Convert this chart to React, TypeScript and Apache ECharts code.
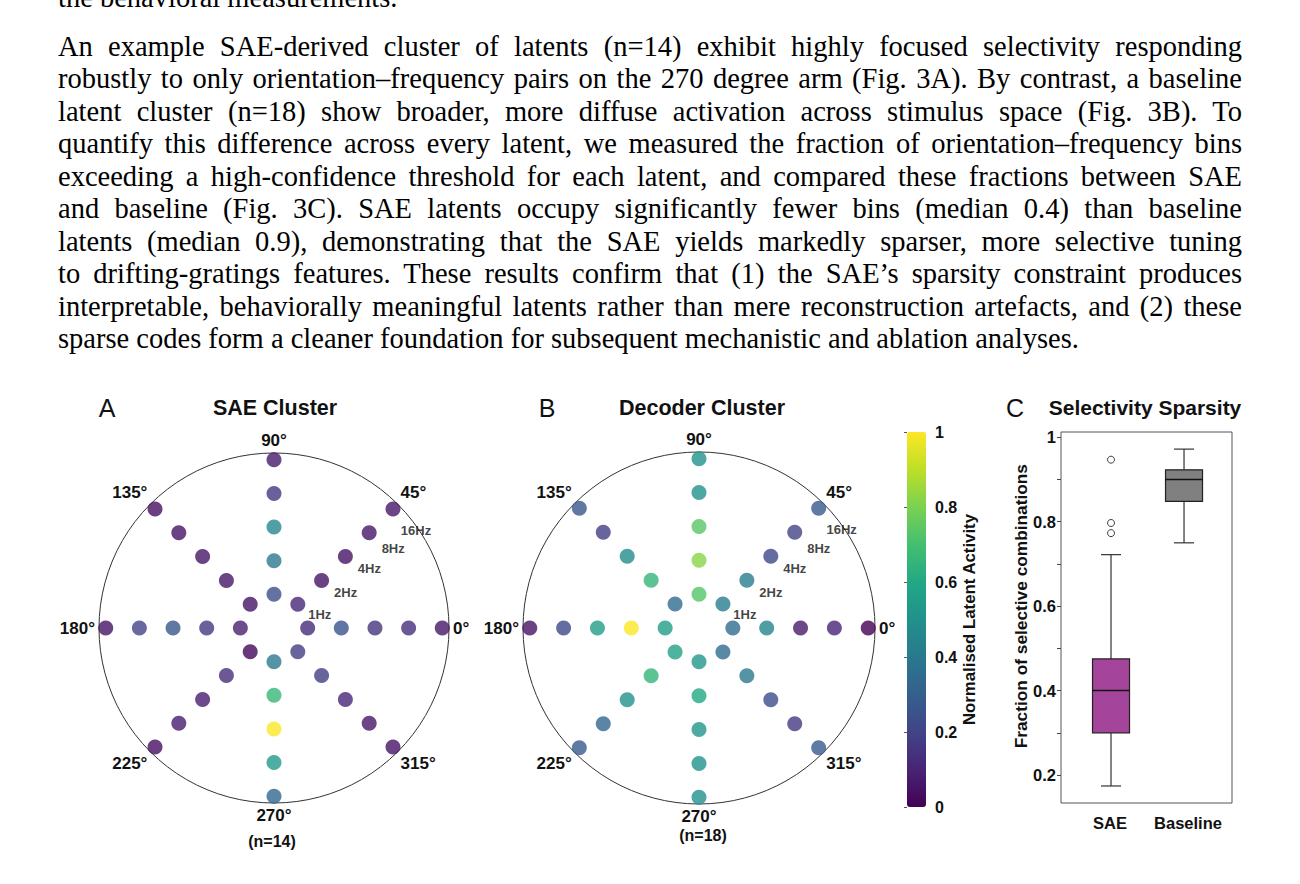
import React, { useEffect, useRef } from 'react';
import * as echarts from 'echarts';

// ---------------- text above the figure ----------------
const leadLine = 'the behavioral measurements.';
const paragraphLines = [
  'An example SAE-derived cluster of latents (n=14) exhibit highly focused selectivity responding',
  'robustly to only orientation–frequency pairs on the 270 degree arm (Fig. 3A). By contrast, a baseline',
  'latent cluster (n=18) show broader, more diffuse activation across stimulus space (Fig. 3B). To',
  'quantify this difference across every latent, we measured the fraction of orientation–frequency bins',
  'exceeding a high-confidence threshold for each latent, and compared these fractions between SAE',
  'and baseline (Fig. 3C). SAE latents occupy significantly fewer bins (median 0.4) than baseline',
  'latents (median 0.9), demonstrating that the SAE yields markedly sparser, more selective tuning',
  'to drifting-gratings features. These results confirm that (1) the SAE’s sparsity constraint produces',
  'interpretable, behaviorally meaningful latents rather than mere reconstruction artefacts, and (2) these',
  'sparse codes form a cleaner foundation for subsequent mechanistic and ablation analyses.',
];

// ---------------- polar panels ----------------
const angles = [0, 45, 90, 135, 180, 225, 270, 315];
const frequencyLabels = ['1Hz', '2Hz', '4Hz', '8Hz', '16Hz'];
const frequencyRadius = [1, 2, 3, 4, 5];

// rows: orientation (angles), columns: 1Hz..16Hz
const saeActivity = [
  [0.12, 0.26, 0.15, 0.13, 0.06], // 0
  [0.11, 0.05, 0.05, 0.06, 0.06], // 45
  [0.24, 0.4, 0.46, 0.17, 0.07], // 90
  [0.05, 0.06, 0.06, 0.05, 0.04], // 135
  [0.09, 0.17, 0.27, 0.2, 0.05], // 180
  [0.02, 0.13, 0.08, 0.08, 0.04], // 225
  [0.4, 0.66, 1.0, 0.54, 0.33], // 270
  [0.18, 0.18, 0.11, 0.06, 0.05], // 315
];

const decoderActivity = [
  [0.35, 0.45, 0.07, 0.1, 0.0], // 0
  [0.42, 0.42, 0.22, 0.2, 0.28], // 45
  [0.73, 0.82, 0.74, 0.5, 0.5], // 90
  [0.35, 0.65, 0.48, 0.18, 0.27], // 135
  [0.55, 1.0, 0.55, 0.22, 0.05], // 180
  [0.57, 0.65, 0.5, 0.33, 0.28], // 225
  [0.52, 0.6, 0.52, 0.5, 0.5], // 270
  [0.35, 0.4, 0.23, 0.17, 0.28], // 315
];

const colorbarTicks = [0, 0.2, 0.4, 0.6, 0.8, 1];

// ---------------- box plot panel ----------------
const boxCategories = ['SAE', 'Baseline'];
const boxLow = [0.174, 0.75];
const boxQ1 = [0.3, 0.848];
const boxMedian = [0.4, 0.9];
const boxQ3 = [0.475, 0.923];
const boxHigh = [0.722, 0.972];
const saeOutliers = [0.947, 0.797, 0.773];

// ---------------- styles ----------------
const viridis = ['#440154', '#482475', '#414487', '#355f8d', '#2a788e', '#21918c', '#22a884', '#44bf70', '#7ad151', '#bddf26', '#fde725'];
const boxFill = ['#A5449B', '#808080'];
const labelOffsets = [[22, 10], [24, 12], [24, 12], [24, 16], [23, 21]];
const FONT = '"Liberation Sans", Arial, Helvetica, sans-serif';
const INK = '#111';

function polarData(activity: number[][]) {
  const out: any[] = [];
  angles.forEach((a, ai) => {
    frequencyRadius.forEach((r, fi) => {
      const item: any = { value: [r, a, activity[ai][fi]] };
      if (a === 45) {
        item.label = {
          show: true,
          formatter: frequencyLabels[fi],
          offset: labelOffsets[fi],
          color: INK,
          textBorderWidth: 0,
          textBorderColor: 'transparent',
        };
      }
      out.push(item);
    });
  });
  return out;
}

function txt(text: string, x: number, y: number, fontSize: number, fontWeight: any = 'normal') {
  return {
    type: 'text',
    x,
    y,
    silent: true,
    style: {
      text,
      fontSize,
      fontWeight,
      fontFamily: FONT,
      fill: INK,
      textAlign: 'center',
      textVerticalAlign: 'middle',
      align: 'center',
      verticalAlign: 'middle',
    },
  };
}

function angleAxisFor(index: number) {
  return {
    polarIndex: index,
    type: 'value',
    min: 0,
    max: 360,
    interval: 45,
    startAngle: 0,
    clockwise: false,
    axisLine: { show: true, lineStyle: { color: '#333', width: 1 } },
    axisTick: { show: false },
    splitLine: { show: false },
    splitArea: { show: false },
    axisLabel: {
      show: true,
      margin: 4,
      fontSize: 17,
      fontWeight: 'bold',
      color: INK,
      fontFamily: FONT,
      formatter: (v: number) => (v >= 360 ? '' : v + '°'),
    },
  };
}

function buildOption(): any {
  const boxData = boxCategories.map((c, i) => [i + 1, boxLow[i], boxQ1[i], boxMedian[i], boxQ3[i], boxHigh[i]]);
  const freqLabelStyle = {
    show: false,
    position: 'inside',
    color: INK,
    fontSize: 13,
    fontWeight: 'bold',
    fontFamily: FONT,
    textBorderWidth: 0,
    textBorderColor: 'transparent',
  };
  return {
    animation: false,
    backgroundColor: '#ffffff',
    textStyle: { fontFamily: FONT, color: INK },
    polar: [
      { center: [274, 628], radius: 175 },
      { center: [699, 628], radius: 176 },
    ],
    angleAxis: [angleAxisFor(0), angleAxisFor(1)],
    radiusAxis: [
      { polarIndex: 0, type: 'value', min: 0, max: 5.2, show: false },
      { polarIndex: 1, type: 'value', min: 0, max: 5.2, show: false },
    ],
    visualMap: {
      type: 'continuous',
      min: 0,
      max: 1,
      dimension: 2,
      seriesIndex: [0, 1],
      inRange: { color: viridis },
      left: 907,
      top: 432,
      itemWidth: 19,
      itemHeight: 375,
      calculable: false,
      hoverLink: false,
      padding: 0,
      orient: 'vertical',
      text: null,
    },
    grid: [
      { left: 907, top: 432, width: 19, height: 375, show: false },
      { left: 1061, top: 432, width: 171, height: 371, show: true, borderColor: '#555', borderWidth: 1, backgroundColor: 'rgba(0,0,0,0)' },
      { left: 1061, top: 437.3, width: 171, height: 337.7, show: false },
      { left: 1071, top: 432, width: 156, height: 371, show: false },
    ],
    xAxis: [
      { gridIndex: 0, type: 'value', show: false, min: 0, max: 1 },
      { gridIndex: 1, type: 'value', show: false, min: 0, max: 1 },
      { gridIndex: 2, type: 'value', show: false, min: 0.315, max: 2.657 },
      {
        gridIndex: 3,
        type: 'category',
        data: boxCategories,
        axisLine: { show: false },
        axisTick: { show: false },
        splitLine: { show: false },
        axisLabel: { interval: 0, fontSize: 16.5, fontWeight: 'bold', color: INK, margin: 11, fontFamily: FONT },
      },
    ],
    yAxis: [
      {
        gridIndex: 0,
        type: 'value',
        position: 'right',
        min: 0,
        max: 1,
        interval: 0.2,
        axisLine: { show: false },
        axisTick: { show: true, length: 3, inside: true, lineStyle: { color: '#555' } },
        splitLine: { show: false },
        axisLabel: {
          margin: 9,
          fontSize: 16,
          fontWeight: 'bold',
          color: INK,
          fontFamily: FONT,
          formatter: (v: number) => {
            const hit = colorbarTicks.find((t) => Math.abs(t - v) < 1e-6);
            if (hit === undefined) return '';
            return hit === 0 || hit === 1 ? String(hit) : hit.toFixed(1);
          },
        },
        name: 'Normalised Latent Activity',
        nameLocation: 'middle',
        nameRotate: 90,
        nameGap: 35,
        nameTextStyle: { fontSize: 16.8, fontWeight: 'bold', color: INK, fontFamily: FONT },
      },
      { gridIndex: 1, type: 'value', show: false, min: 0, max: 1 },
      {
        gridIndex: 2,
        type: 'value',
        min: 0.2,
        max: 1,
        interval: 0.1,
        axisLine: { show: false },
        axisTick: { show: true, length: 4, lineStyle: { color: '#444' } },
        splitLine: { show: false },
        axisLabel: {
          margin: 5,
          fontSize: 16.5,
          fontWeight: 'bold',
          color: INK,
          fontFamily: FONT,
          formatter: (v: number) => {
            if (Math.abs(v * 5 - Math.round(v * 5)) > 1e-6) return '';
            return Math.abs(v - 1) < 1e-6 ? '1' : v.toFixed(1);
          },
        },
        name: 'Fraction of selective combinations',
        nameLocation: 'middle',
        nameRotate: 90,
        nameGap: 30,
        nameTextStyle: { fontSize: 17.3, fontWeight: 'bold', color: INK, fontFamily: FONT },
      },
      { gridIndex: 3, type: 'value', show: false, min: 0, max: 1 },
    ],
    series: [
      {
        type: 'scatter',
        coordinateSystem: 'polar',
        polarIndex: 0,
        symbol: 'circle',
        symbolSize: 15,
        data: polarData(saeActivity),
        label: freqLabelStyle,
        emphasis: { disabled: true },
        z: 3,
      },
      {
        type: 'scatter',
        coordinateSystem: 'polar',
        polarIndex: 1,
        symbol: 'circle',
        symbolSize: 15,
        data: polarData(decoderActivity),
        label: freqLabelStyle,
        emphasis: { disabled: true },
        z: 3,
      },
      {
        type: 'custom',
        xAxisIndex: 2,
        yAxisIndex: 2,
        clip: false,
        data: boxData,
        encode: { x: 0, y: [1, 2, 3, 4, 5] },
        renderItem: (params: any, api: any) => {
          const x = api.value(0);
          const low = api.coord([x, api.value(1)]);
          const q1 = api.coord([x, api.value(2)]);
          const med = api.coord([x, api.value(3)]);
          const q3 = api.coord([x, api.value(4)]);
          const high = api.coord([x, api.value(5)]);
          const half = 18.5;
          const cap = 10;
          const whisker = { stroke: '#333', lineWidth: 1.2 };
          return {
            type: 'group',
            children: [
              { type: 'line', shape: { x1: low[0], y1: low[1], x2: q1[0], y2: q1[1] }, style: whisker },
              { type: 'line', shape: { x1: q3[0], y1: q3[1], x2: high[0], y2: high[1] }, style: whisker },
              { type: 'line', shape: { x1: low[0] - cap, y1: low[1], x2: low[0] + cap, y2: low[1] }, style: whisker },
              { type: 'line', shape: { x1: high[0] - cap, y1: high[1], x2: high[0] + cap, y2: high[1] }, style: whisker },
              {
                type: 'rect',
                shape: { x: q3[0] - half, y: q3[1], width: half * 2, height: q1[1] - q3[1] },
                style: { fill: boxFill[params.dataIndex], stroke: '#222', lineWidth: 1.2 },
              },
              { type: 'line', shape: { x1: med[0] - half, y1: med[1], x2: med[0] + half, y2: med[1] }, style: { stroke: '#111', lineWidth: 1.5 } },
            ],
          };
        },
      },
      {
        type: 'scatter',
        xAxisIndex: 2,
        yAxisIndex: 2,
        symbol: 'circle',
        symbolSize: 7,
        itemStyle: { color: '#ffffff', borderColor: '#111', borderWidth: 1 },
        emphasis: { disabled: true },
        data: saeOutliers.map((v) => [1, v]),
        z: 4,
      },
    ],
    graphic: [
      txt('A', 107, 408, 25),
      txt('SAE Cluster', 275, 408, 21.5, 'bold'),
      txt('B', 547, 408, 25),
      txt('Decoder Cluster', 702, 408, 21.5, 'bold'),
      txt('C', 1015, 408, 25),
      txt('Selectivity Sparsity', 1145, 407, 21, 'bold'),
      txt('(n=14)', 272, 841, 16, 'bold'),
      txt('(n=18)', 703, 835, 16, 'bold'),
    ],
  };
}

export default function App() {
  const ref = useRef<HTMLDivElement>(null);
  useEffect(() => {
    if (!ref.current) return;
    const chart = echarts.init(ref.current, null, { renderer: 'svg' });
    chart.setOption(buildOption());
    return () => chart.dispose();
  }, []);

  const lineStyle: React.CSSProperties = {
    whiteSpace: 'nowrap',
    height: 32.5,
    textAlign: 'justify',
    textAlignLast: 'justify' as any,
  };

  return (
    <div style={{ position: 'absolute', left: 0, top: 0, width: 1300, height: 884, background: '#fff', overflow: 'hidden' }}>
      <div ref={ref} style={{ position: 'absolute', left: 0, top: 0, width: 1300, height: 884 }} />
      <div
        style={{
          position: 'absolute',
          left: 58,
          top: 0,
          width: 1184,
          fontFamily: '"Liberation Serif", "Times New Roman", Times, serif',
          fontSize: 28.5,
          lineHeight: '32.5px',
          color: '#000',
          pointerEvents: 'none',
        }}
      >
        <div style={{ position: 'absolute', left: 0, top: -18.5, whiteSpace: 'nowrap' }}>{leadLine}</div>
        <div style={{ position: 'absolute', left: 0, top: 30.8, width: 1184 }}>
          {paragraphLines.map((line, i) => (
            <div
              key={i}
              style={i === paragraphLines.length - 1 ? { whiteSpace: 'nowrap', height: 32.5 } : lineStyle}
            >
              {line}
            </div>
          ))}
        </div>
      </div>
    </div>
  );
}
